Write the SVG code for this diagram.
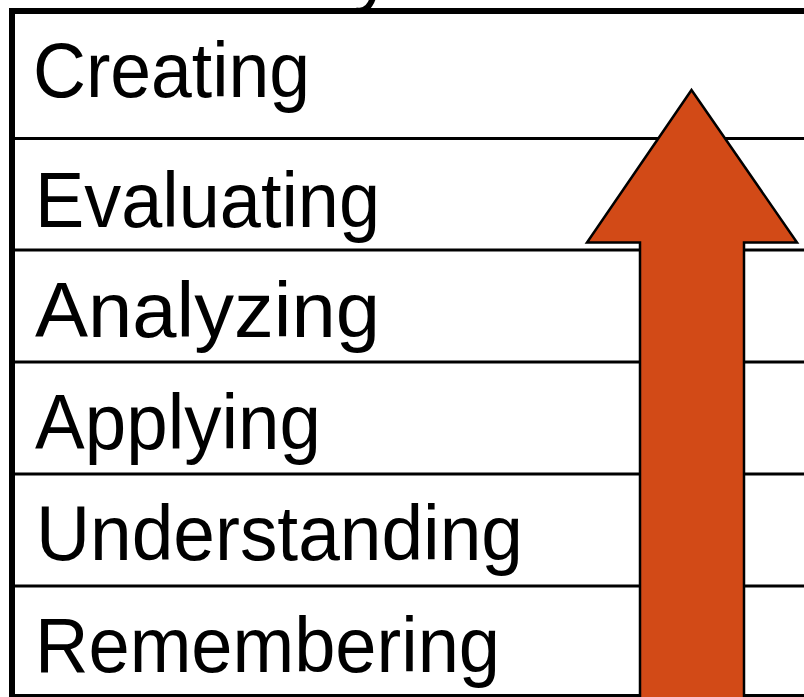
<svg xmlns="http://www.w3.org/2000/svg" width="804" height="697" viewBox="0 0 804 697">
<style>
.lbl{font-family:"Liberation Sans",Arial,sans-serif;font-size:77px;fill:#000}
.row{stroke:#000;stroke-width:3;fill:none}
.border{stroke:#000;stroke-width:6;fill:none}
.arrow{fill:#D24A17;stroke:#000;stroke-width:2.5;stroke-linejoin:miter}
</style>
<rect width="804" height="697" fill="#fff"/>
<text class="lbl" x="354" y="-3">y</text>
<g id="table">
<path class="border" d="M12,697 V11 H804"/>
<path class="row" d="M12,695.5 H804"/>
</g>
<g id="row-creating"><text class="lbl" x="33" y="97" textLength="277" lengthAdjust="spacingAndGlyphs">Creating</text></g>
<g id="row-evaluating"><line class="row" x1="12" y1="138.5" x2="804" y2="138.5"/><text class="lbl" x="35" y="227" textLength="345" lengthAdjust="spacingAndGlyphs">Evaluating</text></g>
<g id="row-analyzing"><line class="row" x1="12" y1="250" x2="804" y2="250"/><text class="lbl" x="35" y="337" textLength="345" lengthAdjust="spacingAndGlyphs">Analyzing</text></g>
<g id="row-applying"><line class="row" x1="12" y1="362" x2="804" y2="362"/><text class="lbl" x="35" y="449" textLength="286" lengthAdjust="spacingAndGlyphs">Applying</text></g>
<g id="row-understanding"><line class="row" x1="12" y1="474" x2="804" y2="474"/><text class="lbl" x="36" y="560" textLength="487" lengthAdjust="spacingAndGlyphs">Understanding</text></g>
<g id="row-remembering"><line class="row" x1="12" y1="586" x2="804" y2="586"/><text class="lbl" x="35" y="672" textLength="465" lengthAdjust="spacingAndGlyphs">Remembering</text></g>
<g id="arrow"><path class="arrow" d="M691.5,90 L797,242.5 L744,242.5 L744,700 L640,700 L640,242.5 L587,242.5 Z"/></g>
</svg>
